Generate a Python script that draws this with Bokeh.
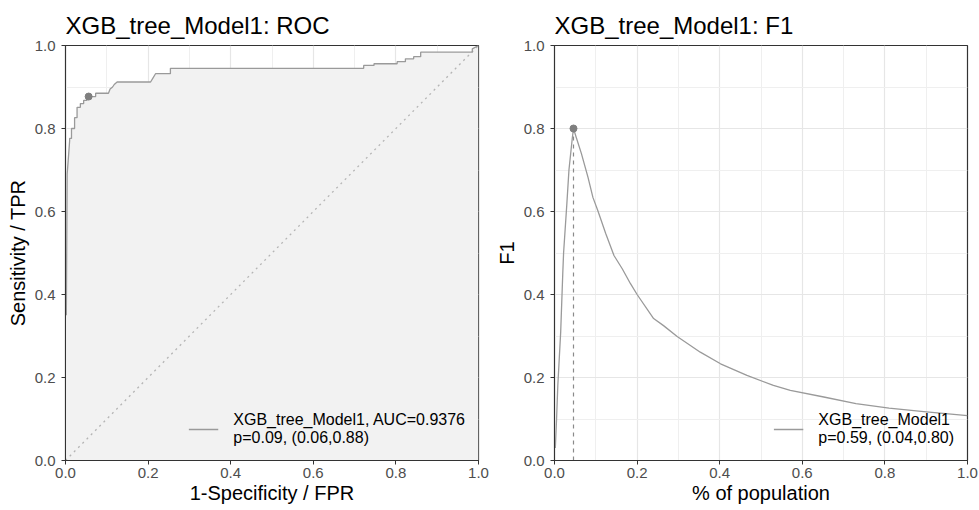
from bokeh.plotting import figure
from bokeh.layouts import row
from bokeh.models import FixedTicker, Legend, LegendItem, PrintfTickFormatter
from bokeh.embed import file_html
from bokeh.resources import INLINE

# ---------------- data ----------------
model_name = "XGB_tree_Model1"
auc = 0.9376

fpr = [0.002, 0.004, 0.006, 0.010, 0.010, 0.0145, 0.0145, 0.022, 0.022, 0.028, 0.028,
       0.036, 0.036, 0.044, 0.044, 0.052, 0.052, 0.073, 0.073, 0.104, 0.108, 0.114,
       0.118, 0.125, 0.206, 0.212, 0.218, 0.254, 0.254, 0.722, 0.722, 0.747, 0.747,
       0.803, 0.803, 0.823, 0.823, 0.843, 0.843, 0.860, 0.860, 0.985, 0.985, 1.0]
tpr = [0.35, 0.69, 0.716, 0.77, 0.776, 0.776, 0.80, 0.80, 0.826, 0.826, 0.851,
       0.851, 0.86, 0.86, 0.868, 0.868, 0.877, 0.877, 0.885, 0.885, 0.895, 0.90,
       0.906, 0.912, 0.912, 0.922, 0.932, 0.932, 0.945, 0.945, 0.952, 0.952, 0.956,
       0.956, 0.961, 0.961, 0.968, 0.968, 0.973, 0.973, 0.984, 0.984, 0.992, 1.0]
roc_cut_fpr = [0.056]
roc_cut_tpr = [0.877]
roc_cut_p = 0.09
diag = [0.0, 1.0]

pop = [0.002, 0.005, 0.008, 0.015, 0.020, 0.022, 0.030, 0.035, 0.043, 0.046, 0.0525,
       0.065, 0.081, 0.093, 0.105, 0.124, 0.144, 0.164, 0.184, 0.20, 0.24, 0.264,
       0.297, 0.353, 0.402, 0.466, 0.53, 0.571, 0.652, 0.73, 0.81, 0.894, 1.0]
f1 = [0.03, 0.10, 0.18, 0.31, 0.45, 0.50, 0.62, 0.70, 0.776, 0.80, 0.779,
      0.74, 0.683, 0.634, 0.602, 0.547, 0.494, 0.462, 0.426, 0.40, 0.342, 0.325,
      0.299, 0.261, 0.233, 0.205, 0.181, 0.169, 0.153, 0.137, 0.126, 0.118, 0.108]
f1_cut_pop = [0.046]
f1_cut_f1 = [0.80]
f1_cut_p = 0.59

major_ticks = [0.0, 0.2, 0.4, 0.6, 0.8, 1.0]
minor_ticks = [0.1, 0.3, 0.5, 0.7, 0.9]

FONT = "Liberation Sans"
CURVE = "#9a9a9a"
POINT = "#7f7f7f"


def style(p, xlabel, ylabel):
    p.title.text_font = FONT
    p.title.text_font_size = "24px"
    p.title.text_font_style = "normal"
    p.title.text_color = "#000000"
    p.title.align = "left"
    p.title.standoff = 14
    for ax, lab in ((p.xaxis[0], xlabel), (p.yaxis[0], ylabel)):
        ax.axis_label = lab
        ax.axis_label_text_font = FONT
        ax.axis_label_text_font_size = "20px"
        ax.axis_label_text_font_style = "normal"
        ax.axis_label_text_color = "#000000"
        ax.major_label_text_font = FONT
        ax.major_label_text_font_size = "15px"
        ax.major_label_text_color = "#4d4d4d"
        ax.ticker = FixedTicker(ticks=major_ticks, minor_ticks=minor_ticks)
        ax.formatter = PrintfTickFormatter(format="%.1f")
        ax.major_tick_in = 0
        ax.major_tick_out = 4
        ax.minor_tick_in = 0
        ax.minor_tick_out = 0
        ax.major_tick_line_color = "#333333"
        ax.axis_line_color = "#333333"
    p.xaxis[0].major_label_standoff = 3
    p.xaxis[0].axis_label_standoff = 1
    p.yaxis[0].major_label_standoff = 6
    p.yaxis[0].axis_label_standoff = 3
    for g in (p.xgrid[0], p.ygrid[0]):
        g.ticker = FixedTicker(ticks=major_ticks, minor_ticks=minor_ticks)
        g.grid_line_color = "#e6e6e6"
        g.grid_line_width = 1.2
        g.minor_grid_line_color = "#efefef"
        g.minor_grid_line_width = 1
    p.outline_line_color = "#333333"
    p.outline_line_width = 1.2
    p.outline_line_alpha = 1
    p.background_fill_color = "white"
    p.border_fill_color = "white"


def make_legend(p, renderer, text):
    leg = Legend(items=[LegendItem(label=text, renderers=[renderer])],
                 location="bottom_right")
    leg.background_fill_alpha = 0
    leg.border_line_alpha = 0
    leg.label_text_font = FONT
    leg.label_text_font_size = "16px"
    leg.label_text_color = "#000000"
    leg.label_text_line_height = 0.92
    leg.glyph_width = 30
    leg.label_standoff = 15
    leg.margin = 4
    leg.padding = 9
    p.add_layout(leg)


# ---------------- ROC ----------------
p1 = figure(frame_width=413, frame_height=415, x_range=(0, 1), y_range=(0, 1),
            output_backend="svg", toolbar_location=None,
            title=f"{model_name}: ROC",
            min_border_left=65, min_border_right=11, min_border_top=45, min_border_bottom=40)
style(p1, "1-Specificity / FPR", "Sensitivity / TPR")
p1.varea(x=fpr, y1=0, y2=tpr, fill_color="#f2f2f2")
p1.line(x=diag, y=diag, line_color="#b5b5b5", line_dash="2 4", line_width=1.3)
roc_line = p1.line(x=fpr, y=tpr, line_color=CURVE, line_width=1.3)
p1.scatter(x=roc_cut_fpr, y=roc_cut_tpr, size=7, color=POINT)
make_legend(p1, roc_line,
            f"{model_name}, AUC={auc:.4f}\np={roc_cut_p:.2f}, ({roc_cut_fpr[0]:.2f},{roc_cut_tpr[0]:.2f})")

# ---------------- F1 ----------------
p2 = figure(frame_width=413, frame_height=415, x_range=(0, 1), y_range=(0, 1),
            output_backend="svg", toolbar_location=None,
            title=f"{model_name}: F1",
            min_border_left=65, min_border_right=12, min_border_top=45, min_border_bottom=40)
style(p2, "% of population", "F1")
p2.segment(x0=f1_cut_pop, y0=[0], x1=f1_cut_pop, y1=f1_cut_f1,
           line_color="#8a8a8a", line_dash="4 4", line_width=1.2)
f1_line = p2.line(x=pop, y=f1, line_color=CURVE, line_width=1.3)
p2.scatter(x=f1_cut_pop, y=f1_cut_f1, size=7, color=POINT)
make_legend(p2, f1_line,
            f"{model_name}\np={f1_cut_p:.2f}, (0.04,{f1_cut_f1[0]:.2f})")

layout = row(p1, p2)
open("out.html", "w").write(file_html(layout, INLINE))
